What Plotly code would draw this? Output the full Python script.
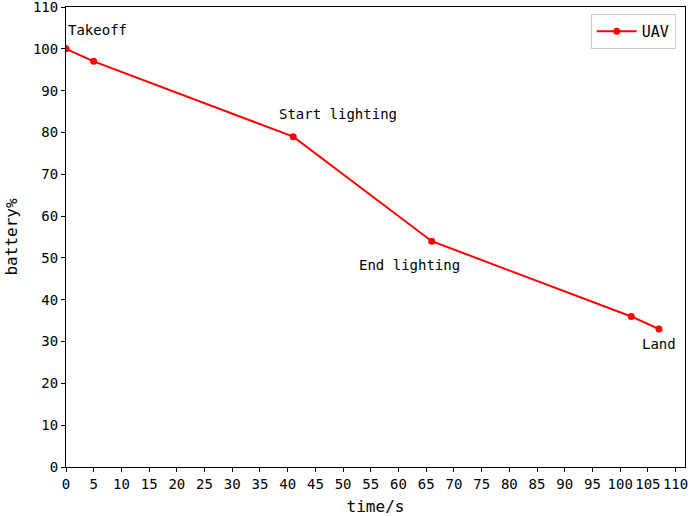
import plotly.graph_objects as go

time_s = [0, 5, 41, 66, 102, 107]
battery = [100, 97, 79, 54, 36, 33]
labels = ["Takeoff", "Start lighting", "End lighting", "Land"]
label_x = [0, 38, 52.6, 103.5]
label_y = [104.5, 84.3, 48.2, 29.4]
x_ticks = list(range(0, 111, 5))
y_ticks = list(range(0, 111, 10))

FONT = "DejaVu Sans Mono"

fig = go.Figure()
fig.add_trace(go.Scatter(x=time_s, y=battery, mode="lines+markers", name="UAV",
                         line=dict(color="#ff0000", width=2),
                         marker=dict(color="#ff0000", size=7)))
for t, x, y in zip(labels, label_x, label_y):
    fig.add_annotation(x=x, y=y, text=t, showarrow=False, xanchor="left", yanchor="middle",
                       font=dict(family=FONT, size=14, color="black"))

axis_common = dict(showgrid=False, zeroline=False, showline=True, linecolor="black", linewidth=1,
                   mirror=True, ticks="outside", ticklen=4, tickcolor="black", automargin=False,
                   ticklabeloverflow="allow",
                   tickfont=dict(family=FONT, size=14, color="black"))
fig.update_xaxes(range=[0, 111.7], tickvals=x_ticks, title=dict(text="time/s", font=dict(family=FONT, size=16, color="black"), standoff=14), **axis_common)
fig.update_yaxes(range=[0, 110], tickvals=y_ticks, title=dict(text="battery%", font=dict(family=FONT, size=16, color="black"), standoff=11), **axis_common)

fig.update_layout(width=694, height=516, margin=dict(l=66, r=9, t=7, b=49),
                  plot_bgcolor="white", paper_bgcolor="white",
                  showlegend=True,
                  legend=dict(x=0.985, y=0.985, xanchor="right", yanchor="top",
                              bgcolor="white", bordercolor="#cccccc", borderwidth=1,
                              itemwidth=40,
                              font=dict(family=FONT, size=15, color="black")))
fig.write_html("out.html", config={"displayModeBar": False},
               post_script="document.body.style.margin='0';document.body.style.overflow='hidden';")
